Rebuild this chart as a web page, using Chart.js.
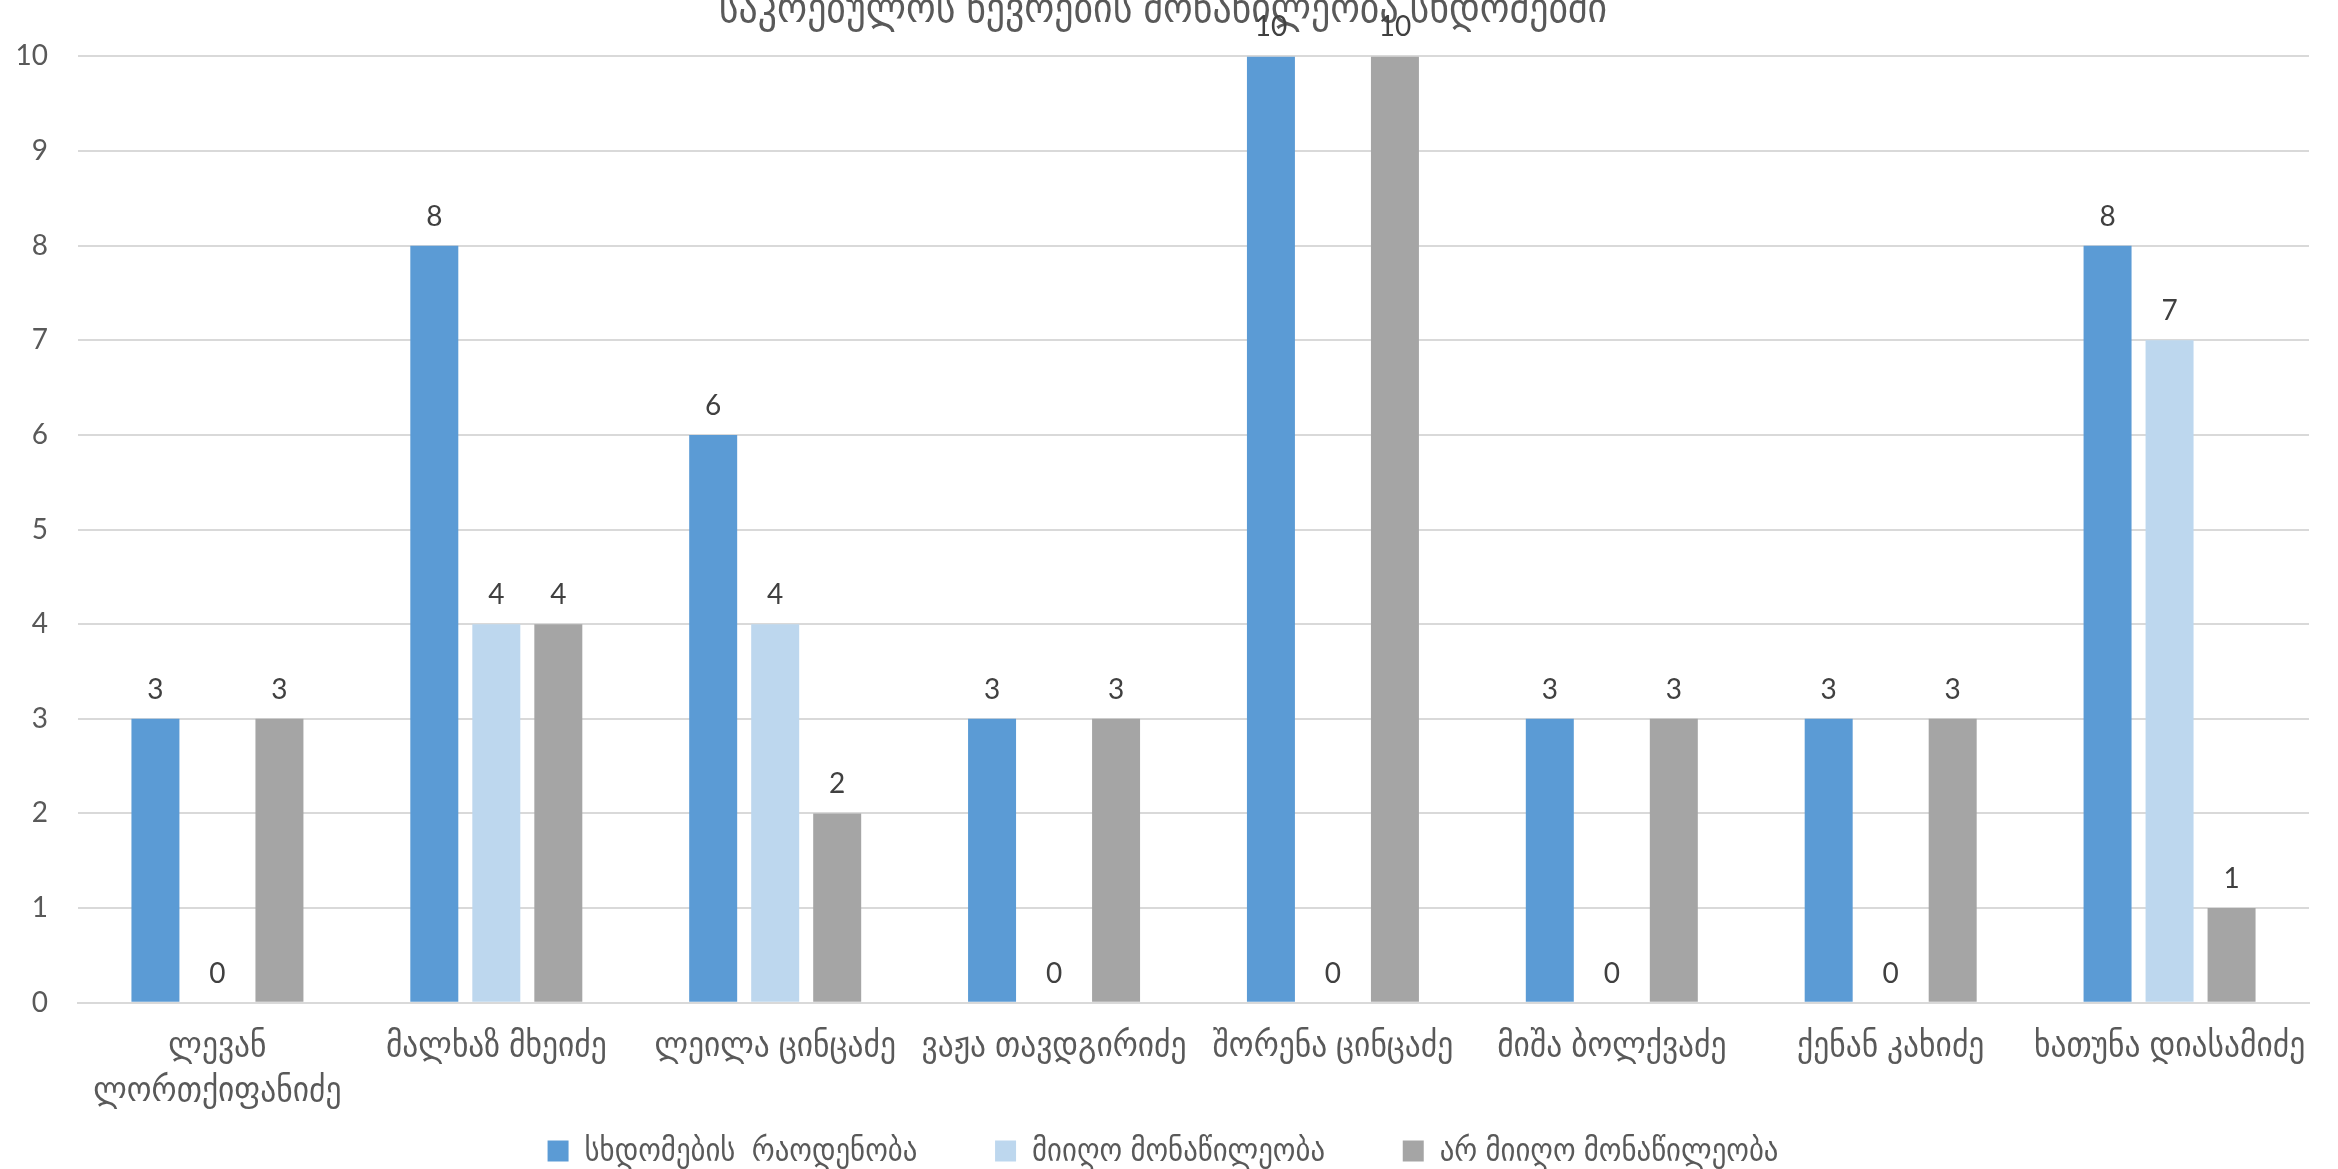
<!DOCTYPE html>
<html>
<head>
<meta charset="utf-8">
<script src="https://cdn.jsdelivr.net/npm/chart.js@4.4.1/dist/chart.umd.min.js"></script>
<style>
  html, body { margin: 0; padding: 0; background: #ffffff; overflow: hidden; width: 2338px; height: 1169px; }
  #wrap { position: absolute; left: 0; top: -17px; width: 2338px; height: 1194px; }
</style>
</head>
<body>
<div id="wrap"><canvas id="c" width="2338" height="1194"></canvas></div>
<script>
const titleText = "საკრებულოს წევრების მონაწილეობა სხდომებში";
const categories = [
  ["ლევან", "ლორთქიფანიძე"],
  "მალხაზ მხეიძე",
  "ლეილა ცინცაძე",
  "ვაჟა თავდგირიძე",
  "შორენა ცინცაძე",
  "მიშა ბოლქვაძე",
  "ქენან კახიძე",
  "ხათუნა დიასამიძე"
];
const seriesNames = ["სხდომების  რაოდენობა", "მიიღო მონაწილეობა", "არ მიიღო მონაწილეობა"];
const sessions        = [3, 8, 6, 3, 10, 3, 3, 8];
const participated    = [0, 4, 4, 0, 0, 0, 0, 7];
const notParticipated = [3, 4, 2, 3, 10, 3, 3, 1];
const yTicks = [0, 1, 2, 3, 4, 5, 6, 7, 8, 9, 10];
const colors = ["#5B9BD5", "#BDD7EE", "#A5A5A5"];

const FONT = "Lato, 'DejaVu Sans Condensed', sans-serif";
const TEXT = "#595959";

const valueLabels = {
  id: "valueLabels",
  afterDatasetsDraw(chart) {
    const ctx = chart.ctx;
    ctx.save();
    ctx.font = "28px " + FONT;
    ctx.fillStyle = "#404040";
    ctx.textAlign = "center";
    ctx.textBaseline = "alphabetic";
    chart.data.datasets.forEach((ds, di) => {
      const meta = chart.getDatasetMeta(di);
      meta.data.forEach((bar, i) => {
        ctx.fillText(String(ds.data[i]), bar.x, bar.y - 20);
      });
    });
    ctx.restore();
  }
};

new Chart(document.getElementById("c"), {
  type: "bar",
  data: {
    labels: categories,
    datasets: [
      { label: seriesNames[0], data: sessions, backgroundColor: colors[0] },
      { label: seriesNames[1], data: participated, backgroundColor: colors[1] },
      { label: seriesNames[2], data: notParticipated, backgroundColor: colors[2] }
    ]
  },
  options: {
    responsive: false,
    animation: false,
    devicePixelRatio: 1,
    categoryPercentage: 0.667,
    barPercentage: 0.774,
    layout: { autoPadding: false, padding: { left: 17, right: 29, top: 0, bottom: 0 } },
    plugins: {
      title: {
        display: true,
        text: titleText,
        color: TEXT,
        font: { family: FONT, size: 42, weight: "normal", lineHeight: 1.2 },
        padding: { top: 0, bottom: 23 }
      },
      legend: {
        display: true,
        position: "bottom",
        labels: {
          color: TEXT,
          font: { family: FONT, size: 32 },
          boxWidth: 21,
          boxHeight: 21,
          padding: 4,
          generateLabels(chart) {
            const items = Chart.defaults.plugins.legend.labels.generateLabels(chart);
            items.forEach((it, i) => { if (i < items.length - 1) it.text = it.text + "         "; });
            return items;
          }
        }
      },
      tooltip: { enabled: false }
    },
    scales: {
      x: {
        grid: { display: false, drawTicks: false },
        border: { display: true, color: "#D9D9D9", width: 2 },
        ticks: {
          color: TEXT,
          font: { family: FONT, size: 35, lineHeight: 1.29 },
          padding: 19,
          maxRotation: 0,
          autoSkip: false
        },
        afterFit(scale) {
          scale.paddingLeft = 0;
          scale.paddingRight = 0;
        }
      },
      y: {
        min: 0,
        max: 10,
        afterBuildTicks(axis) { axis.ticks = yTicks.map(v => ({ value: v })); },
        grid: { color: "#D9D9D9", lineWidth: 2, drawTicks: false },
        border: { display: false },
        ticks: {
          color: TEXT,
          font: { family: FONT, size: 28 },
          padding: 30,
          crossAlign: "near"
        },
        afterFit(scale) {
          scale.width = 61;
        }
      }
    }
  },
  plugins: [valueLabels]
});
</script>
</body>
</html>
